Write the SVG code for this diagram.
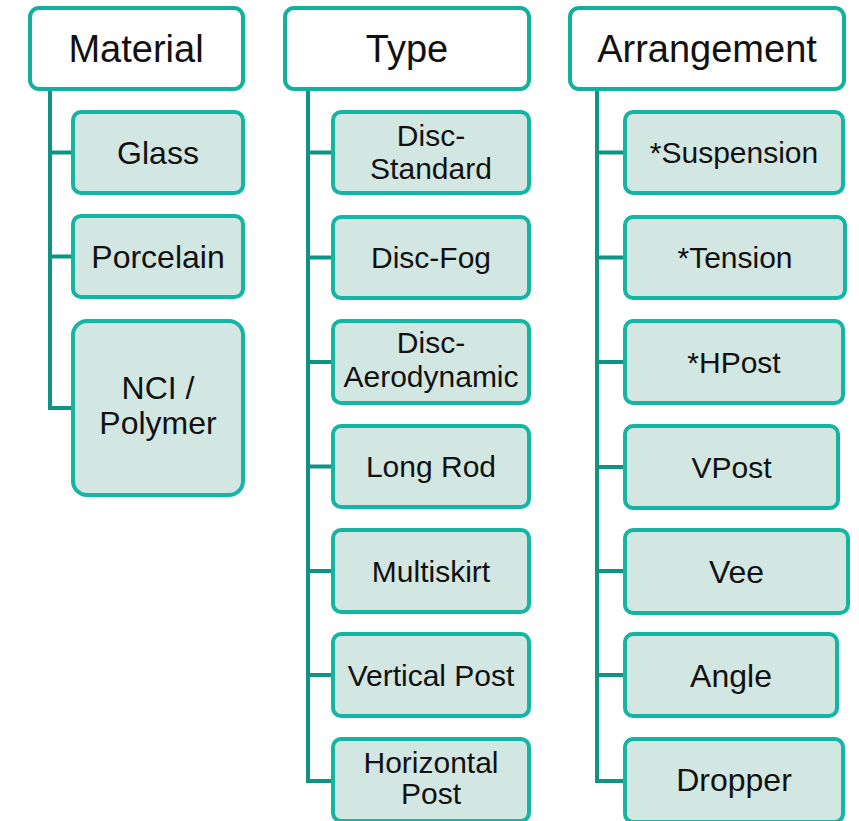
<svg xmlns="http://www.w3.org/2000/svg" width="859" height="821" viewBox="0 0 859 821">
<style>
.hdr{fill:#ffffff;stroke:#14B09E;stroke-width:4}
.box{fill:#D2E6E2;stroke:#14B5A3;stroke-width:4}
.conn{fill:none;stroke:#0F9384;stroke-width:4;stroke-linejoin:miter}
text{font-family:"Liberation Sans",Arial,sans-serif;fill:#111;text-anchor:middle}
.h{font-size:38px}
.c30{font-size:30px}
.c32{font-size:32px}
</style>
<rect width="859" height="821" fill="#ffffff"/>
<g id="connectors">
<path class="conn" d="M50 91 V408 H73 M50 152.5 H73 M50 256.5 H73"/>
<path class="conn" d="M308 91 V781 H333 M308 152.5 H333 M308 257.5 H333 M308 362 H333 M308 466.5 H333 M308 571 H333 M308 675 H333"/>
<path class="conn" d="M597 91 V781 H625 M597 152.5 H625 M597 257.5 H625 M597 362 H625 M597 467 H625 M597 571 H625 M597 675 H625"/>
</g>
<g id="material"><rect class="hdr" x="30" y="8" width="213" height="81" rx="9"/><text class="h" x="136" y="61.5">Material</text></g>
<g id="glass"><rect class="box" x="73" y="112" width="170" height="81" rx="8"/><text class="c32" x="158" y="163.5">Glass</text></g>
<g id="porcelain"><rect class="box" x="73" y="216" width="170" height="81" rx="8"/><text class="c32" x="158" y="268">Porcelain</text></g>
<g id="nci"><rect class="box" x="73" y="321" width="170" height="174" rx="14"/><text class="c32" x="158" y="399">NCI /</text><text class="c32" x="158" y="434">Polymer</text></g>

<g id="type"><rect class="hdr" x="285" y="8" width="244" height="81" rx="9"/><text class="h" x="407" y="61.5">Type</text></g>
<g id="disc-standard"><rect class="box" x="333" y="112" width="196" height="81" rx="8"/><text class="c30" x="431" y="146">Disc-</text><text class="c30" x="431" y="179">Standard</text></g>
<g id="disc-fog"><rect class="box" x="333" y="217" width="196" height="81" rx="8"/><text class="c30" x="431" y="268">Disc-Fog</text></g>
<g id="disc-aero"><rect class="box" x="333" y="321" width="196" height="82" rx="8"/><text class="c30" x="431" y="353">Disc-</text><text class="c30" x="431" y="387">Aerodynamic</text></g>
<g id="long-rod"><rect class="box" x="333" y="426" width="196" height="81" rx="8"/><text class="c30" x="431" y="477">Long Rod</text></g>
<g id="multiskirt"><rect class="box" x="333" y="530" width="196" height="82" rx="8"/><text class="c30" x="431" y="581.5">Multiskirt</text></g>
<g id="vertical-post"><rect class="box" x="333" y="634" width="196" height="82" rx="8"/><text class="c30" x="431" y="685.5">Vertical Post</text></g>
<g id="horizontal-post"><rect class="box" x="333" y="739" width="196" height="82" rx="8"/><text class="c30" x="431" y="773">Horizontal</text><text class="c30" x="431" y="804">Post</text></g>

<g id="arrangement"><rect class="hdr" x="570" y="8" width="274" height="81" rx="9"/><text class="h" x="707" y="61.5">Arrangement</text></g>
<g id="suspension"><rect class="box" x="625" y="112" width="218" height="81" rx="8"/><text class="c30" x="734" y="163">*Suspension</text></g>
<g id="tension"><rect class="box" x="625" y="217" width="220" height="81" rx="8"/><text class="c30" x="735" y="268">*Tension</text></g>
<g id="hpost"><rect class="box" x="625" y="321" width="218" height="82" rx="8"/><text class="c30" x="734" y="372.5">*HPost</text></g>
<g id="vpost"><rect class="box" x="625" y="426" width="213" height="82" rx="8"/><text class="c30" x="731.5" y="477.5">VPost</text></g>
<g id="vee"><rect class="box" x="625" y="530" width="223" height="83" rx="8"/><text class="c32" x="736.5" y="582.5">Vee</text></g>
<g id="angle"><rect class="box" x="625" y="634" width="212" height="82" rx="8"/><text class="c32" x="731" y="686.5">Angle</text></g>
<g id="dropper"><rect class="box" x="625" y="739" width="218" height="83" rx="8"/><text class="c32" x="734" y="791">Dropper</text></g>
</svg>
